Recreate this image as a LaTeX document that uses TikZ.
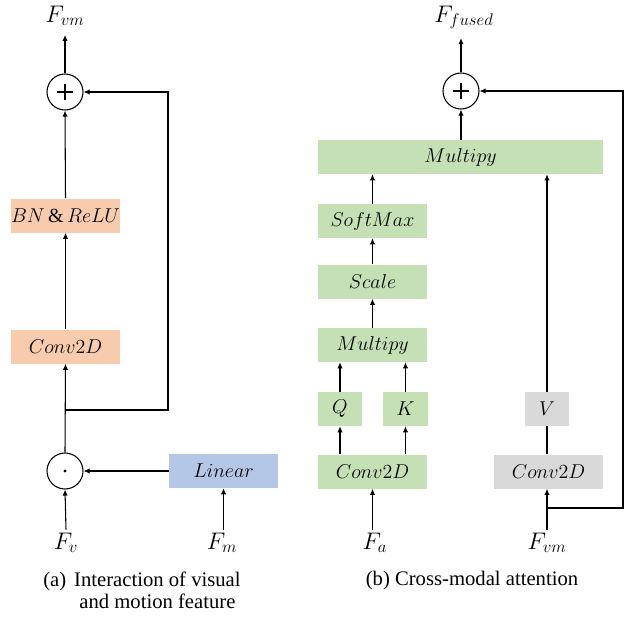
\RequirePackage{fix-cm}
\documentclass[tikz,border=0pt]{standalone}
\usepackage{fontspec}
\setmainfont{Liberation Serif}
\usepackage{tikz}
\usetikzlibrary{arrows.meta}

\definecolor{peach}{HTML}{F8CBAD}
\definecolor{lblue}{HTML}{B4C7E7}
\definecolor{lgreen}{HTML}{C5E0B4}
\definecolor{lgray}{HTML}{D9D9D9}

\tikzset{
  blk/.style={inner sep=0pt, minimum height=25.5pt, minimum width=81.75pt, font=\fontsize{15}{18}\selectfont},
  op/.style={draw, circle, line width=0.8pt, inner sep=0pt, minimum size=27pt},
  lbl/.style={inner sep=2pt, font=\fontsize{18}{21}\selectfont},
  toplbl/.style={lbl, outer sep=5pt},
  ar/.style={line width=0.8pt, -{Latex[length=4.5pt,width=4pt]}},
  ln/.style={line width=0.8pt},
  sign/.style={line width=1.2pt}
}

\begin{document}
\begin{tikzpicture}[x=0.75pt,y=-0.75pt]
\useasboundingbox (0,0) rectangle (633,618);

% (a)
\node[toplbl, anchor=base] (fvm) at (65,22) {$F_{vm}$};
\node[op] (plusL) at (65,92) {};
\draw[sign] (plusL.center) +(-6pt,0) -- +(6pt,0) +(0,-6pt) -- +(0,6pt);
\node[blk, fill=peach] (bnrelu) at (65.5,215.5) {$BN\,\&\,ReLU$};
\node[blk, fill=peach] (convL) at (65.5,346.5) {$Conv2D$};
\node[op] (dotL) at (65,471) {};
\fill (dotL.center) circle (1.3pt);
\node[blk, fill=lblue] (linear) at (223.5,471) {$Linear$};
\node[lbl, anchor=base] (fv) at (66,549) {$F_v$};
\node[lbl, anchor=base] (fm) at (222,549) {$F_m$};
\coordinate (jL) at (65,410);
\coordinate (loopL) at (168,92);

\draw[ar] (fv.north) -- (dotL.south);
\draw[ar] (fm.north -| linear) -- (linear.south);
\draw[ar] (linear.west) -- (dotL.east);
\draw[ar] (dotL.north) -- (convL.south);
\draw[ar] (convL.north) -- (bnrelu.south);
\draw[ar] (bnrelu.north) -- (plusL.south);
\draw[ar] (plusL.north) -- (plusL.north |- fvm.south);
\draw[ar] (jL) -| (loopL) -- (plusL.east);

\node[anchor=base west, inner sep=0pt, font=\fontsize{15.5}{16.5}\selectfont] (capA) at (43,586)
  {\begin{tabular}[t]{@{}l@{\hspace{6pt}}c@{}}(a)&Interaction of visual\\&and motion feature\end{tabular}};

% (b)
\node[toplbl, anchor=base] (ffused) at (464,22) {$F_{fused}$};
\node[op] (plusR) at (461,91) {};
\draw[sign] (plusR.center) +(-6pt,0) -- +(6pt,0) +(0,-6pt) -- +(0,6pt);
\node[blk, fill=lgreen, minimum width=213.75pt] (multBig) at (460.5,157) {$Multipy$};
\node[blk, fill=lgreen] (softmax) at (372.5,221) {$SoftMax$};
\node[blk, fill=lgreen] (scale) at (372.5,281.5) {$Scale$};
\node[blk, fill=lgreen] (multSmall) at (372.5,345) {$Multipy$};
\node[blk, fill=lgreen, minimum width=33pt] (q) at (340,409) {$Q$};
\node[blk, fill=lgreen, minimum width=33.75pt] (k) at (405.5,409) {$K$};
\node[blk, fill=lgreen] (convR) at (372.5,471.5) {$Conv2D$};
\node[blk, fill=lgray, minimum width=33pt] (v) at (547,409) {$V$};
\node[blk, fill=lgray] (convV) at (548.5,471.5) {$Conv2D$};
\node[lbl, anchor=base] (fa) at (375,549) {$F_a$};
\node[lbl, anchor=base] (fvmR) at (547,549) {$F_{vm}$};
\coordinate (jR) at (547,508);
\coordinate (loopR) at (623,91);

\draw[ar] (fa.north -| convR) -- (convR.south);
\draw[ar] (convR.north -| q) -- (q.south);
\draw[ar] (convR.north -| k) -- (k.south);
\draw[ar] (q.north) -- (q.north |- multSmall.south);
\draw[ar] (k.north) -- (k.north |- multSmall.south);
\draw[ar] (multSmall.north) -- (scale.south);
\draw[ar] (scale.north) -- (softmax.south);
\draw[ar] (softmax.north) -- (softmax.north |- multBig.south);
\draw[ar] (fvmR.north) -- (fvmR.north |- convV.south);
\draw[ln] (convV.north -| v) -- (v.south);
\draw[ar] (v.north) -- (v.north |- multBig.south);
\draw[ar] (plusR |- multBig.north) -- (plusR.south);
\draw[ar] (plusR.north) -- (plusR.north |- ffused.south);
\draw[ar] (jR) -| (loopR) -- (plusR.east);

\node[anchor=base, inner sep=0pt, font=\fontsize{15.5}{16.5}\selectfont] (capB) at (472,585) {(b) Cross-modal attention};
\end{tikzpicture}
\end{document}
